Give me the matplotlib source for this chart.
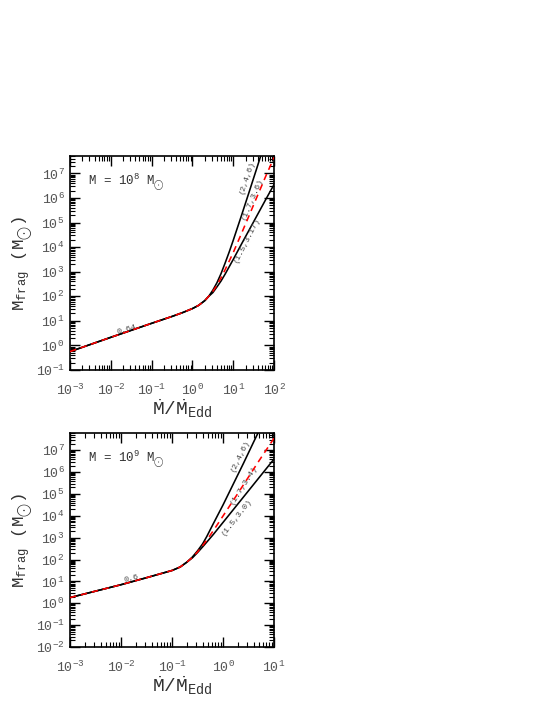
import numpy as np
import matplotlib
matplotlib.use("Agg")
import matplotlib.pyplot as plt
from matplotlib.ticker import LogLocator, NullFormatter

plt.rcParams['font.family'] = ['Liberation Mono', 'DejaVu Sans']
plt.rcParams['mathtext.fontset'] = 'custom'
plt.rcParams['mathtext.rm'] = 'Liberation Mono'
plt.rcParams['mathtext.it'] = 'Liberation Mono'
plt.rcParams['mathtext.bf'] = 'Liberation Mono'

# ---------------- data (log10 values) ----------------
# Panel 1: M = 1e8 Msun
p1_common_lx = [-3.0, -2.0, -1.0, -0.5, -0.25, 0.0, 0.15, 0.3, 0.4]
p1_common_ly = [-0.25, 0.33, 0.90, 1.18, 1.33, 1.50, 1.63, 1.82, 2.00]
p1_upper_lx = [0.5, 0.6, 0.7, 0.8, 0.9, 1.0, 1.2, 1.4, 1.6, 1.68]
p1_upper_ly = [2.25, 2.55, 2.92, 3.35, 3.80, 4.28, 5.28, 6.30, 7.33, 7.75]
p1_red_lx = [0.5, 0.6, 0.7, 0.8, 0.9, 1.0, 1.2, 1.4, 1.6, 1.8, 2.0]
p1_red_ly = [2.20, 2.45, 2.75, 3.08, 3.43, 3.78, 4.55, 5.33, 6.12, 6.90, 7.65]
p1_lower_lx = [0.5, 0.6, 0.7, 0.8, 0.9, 1.0, 1.2, 1.4, 1.6, 1.8, 2.0]
p1_lower_ly = [2.15, 2.38, 2.62, 2.90, 3.20, 3.50, 4.12, 4.73, 5.34, 5.95, 6.55]

# Panel 2: M = 1e9 Msun
p2_common_lx = [-3.0, -2.0, -1.5, -1.0, -0.84, -0.71]
p2_common_ly = [0.26, 0.85, 1.17, 1.50, 1.66, 1.88]
p2_upper_lx = [-0.6, -0.5, -0.4, -0.32, -0.2, 0.0, 0.2, 0.4, 0.6, 0.7]
p2_upper_ly = [2.12, 2.40, 2.72, 3.05, 3.60, 4.50, 5.45, 6.40, 7.38, 7.86]
p2_red_lx = [-0.6, -0.5, -0.4, -0.3, -0.25, -0.1, 0.1, 0.3, 0.5, 0.7, 0.9, 1.0]
p2_red_ly = [2.10, 2.35, 2.64, 2.95, 3.12, 3.64, 4.35, 5.06, 5.78, 6.50, 7.20, 7.55]
p2_lower_lx = [-0.6, -0.5, -0.4, -0.3, -0.19, 0.0, 0.2, 0.4, 0.6, 0.8, 1.0]
p2_lower_ly = [2.08, 2.32, 2.58, 2.85, 3.15, 3.70, 4.28, 4.86, 5.44, 6.02, 6.60]

p1_labels = ["0.64", "(2,4,6)", "(1.7,3.6)", "(1.5,3.17)"]
p2_labels = ["0.6", "(2,4,6)", "(1.7,3.4)", "(1.5,3.0)"]
p1_title = r"M = 10$^{8}$ M$_{_{\bigodot}}$"
p2_title = r"M = 10$^{9}$ M$_{_{\bigodot}}$"

xlabel = r"$\dot{\rm M}/\dot{\rm M}_{\rm Edd}$"
ylabel = r"M$_{\rm frag}$ (M$_{_{\bigodot}}$)"

TICK_COL = '#555555'
LAB_COL = '#333333'

fig = plt.figure(figsize=(5.53, 7.15), dpi=100)

def build(ax, clx, cly, ulx, uly, rlx, rly, llx, lly, xlim, ylim, labels, title,
          label_pos, label_rot):
    def full(lx, ly):
        x = np.power(10.0, np.array(clx + lx))
        y = np.power(10.0, np.array(cly + ly))
        return x, y
    x, y = full(ulx, uly)
    ax.plot(x, y, color='black', lw=1.15, zorder=3)
    x, y = full(llx, lly)
    ax.plot(x, y, color='black', lw=1.15, zorder=3)
    x, y = full(rlx, rly)
    ax.plot(x, y, color='red', lw=1.15, dashes=(4, 3), zorder=4)
    ax.set_xscale('log')
    ax.set_yscale('log')
    ax.set_xlim(*xlim)
    ax.set_ylim(*ylim)
    ax.xaxis.set_major_locator(LogLocator(base=10, numticks=20))
    ax.yaxis.set_major_locator(LogLocator(base=10, numticks=20))
    ax.xaxis.set_minor_locator(LogLocator(base=10, subs=np.arange(2, 10), numticks=20))
    ax.yaxis.set_minor_locator(LogLocator(base=10, subs=np.arange(2, 10), numticks=20))
    ax.xaxis.set_minor_formatter(NullFormatter())
    ax.yaxis.set_minor_formatter(NullFormatter())
    ax.tick_params(which='both', direction='in', top=True, right=True,
                   colors='black', labelcolor=TICK_COL, labelsize=9.5)
    ax.tick_params(which='major', length=7, width=1.0)
    ax.tick_params(axis='x', which='major', pad=9)
    ax.tick_params(axis='y', which='major', pad=4)
    ax.tick_params(which='minor', length=3.5, width=0.8)
    for s in ax.spines.values():
        s.set_linewidth(1.2)
    ax.set_xlabel(xlabel, fontsize=14, color=LAB_COL)
    ax.xaxis.set_label_coords(0.55, -0.13)
    ax.set_ylabel(ylabel, fontsize=12.5, color=LAB_COL)
    ax.yaxis.set_label_coords(-0.165, 0.5)
    ax.text(0.09, 0.875, title, transform=ax.transAxes, fontsize=9,
            color=LAB_COL, ha='left', va='center')
    for txt, (lx, ly), rot in zip(labels, label_pos, label_rot):
        ax.text(10 ** lx, 10 ** ly, txt, fontsize=6, color='#444444',
                rotation=rot, ha='center', va='center')

ax1 = fig.add_axes([0.1266, 0.4825, 0.369, 0.299])
build(ax1, p1_common_lx, p1_common_ly, p1_upper_lx, p1_upper_ly,
      p1_red_lx, p1_red_ly, p1_lower_lx, p1_lower_ly,
      (1e-3, 1e2), (1e-1, 5e7), p1_labels, p1_title,
      [(-1.61, 0.62), (1.33, 6.85), (1.47, 5.95), (1.33, 4.3)],
      [16, 71, 67, 63])

ax2 = fig.add_axes([0.1266, 0.0951, 0.369, 0.299])
build(ax2, p2_common_lx, p2_common_ly, p2_upper_lx, p2_upper_ly,
      p2_red_lx, p2_red_ly, p2_lower_lx, p2_lower_ly,
      (1e-3, 1e1), (1e-2, 6e7), p2_labels, p2_title,
      [(-1.79, 1.12), (0.33, 6.75), (0.40, 5.42), (0.27, 3.95)],
      [14, 64, 58, 52])

fig.savefig('out.png', dpi=100)
